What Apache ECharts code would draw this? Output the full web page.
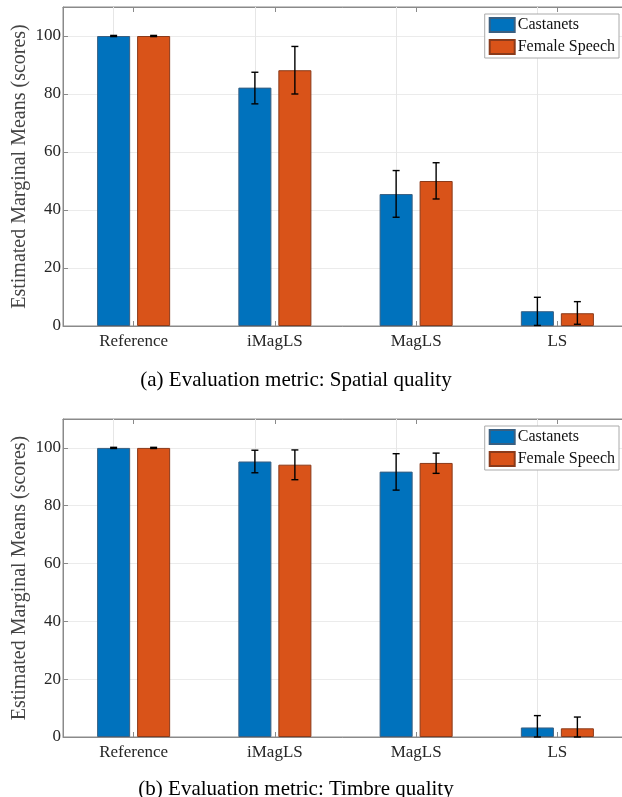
<!DOCTYPE html>
<html><head><meta charset="utf-8">
<script src="https://cdn.jsdelivr.net/npm/echarts@6/dist/echarts.min.js"></script>
<style>html,body{margin:0;padding:0;background:#fff}#c{width:622px;height:797px}</style>
</head><body><div id="c"></div>
<script>
const categories = ['Reference', 'iMagLS', 'MagLS', 'LS'];
const yTicks = [0, 20, 40, 60, 80, 100];
const seriesNames = ['Castanets', 'Female Speech'];
// (a) Spatial quality
const spatialCast = [100, 82.2, 45.5, 5.1];
const spatialCastLow = [99.8, 76.6, 37.5, 0.2];
const spatialCastHigh = [100.2, 87.5, 53.6, 9.9];
const spatialFem = [100, 88.2, 50.0, 4.4];
const spatialFemLow = [99.8, 80.0, 43.8, 0.6];
const spatialFemHigh = [100.2, 96.4, 56.3, 8.4];
// (b) Timbre quality
const timbreCast = [100, 95.3, 91.8, 3.3];
const timbreCastLow = [99.8, 91.4, 85.4, 0];
const timbreCastHigh = [100.2, 99.2, 98.0, 7.4];
const timbreFem = [100, 94.2, 94.8, 3.0];
const timbreFemLow = [99.8, 89.0, 91.2, 0];
const timbreFemHigh = [100.2, 99.3, 98.2, 6.9];

const FONT = 'Liberation Serif';
const TXT = '#262626';
const BLUE = '#0072BD', ORANGE = '#D95319';
const BAR_W = 0.234, BAR_GAP = 0.21;
const OFFSET = BAR_W * (1 + BAR_GAP) / 2;

const chart = echarts.init(document.getElementById('c'), null, {renderer: 'canvas'});

function errSeries(xi, yi, low, high, sign) {
  return {
    type: 'custom', xAxisIndex: xi, yAxisIndex: yi, z: 4, silent: true,
    data: low.map((l, i) => [i, l, high[i]]),
    encode: {x: 0, y: [1, 2]},
    renderItem: function (params, api) {
      const band = api.size([1, 0])[0];
      const p0 = api.coord([api.value(0), api.value(1)]);
      const p1 = api.coord([api.value(0), api.value(2)]);
      const x = p0[0] + sign * band * OFFSET;
      const cap = 3.5;
      const st = {stroke: '#000', lineWidth: 1.4};
      return {type: 'group', children: [
        {type: 'line', shape: {x1: x, y1: p0[1], x2: x, y2: p1[1]}, style: st},
        {type: 'line', shape: {x1: x - cap, y1: p0[1], x2: x + cap, y2: p0[1]}, style: st},
        {type: 'line', shape: {x1: x - cap, y1: p1[1], x2: x + cap, y2: p1[1]}, style: st}
      ]};
    }
  };
}
function barSeries(name, xi, yi, data, color, border, withLines) {
  const s = {
    name: name, type: 'bar', xAxisIndex: xi, yAxisIndex: yi, data: data, z: 2,
    barWidth: (BAR_W * 100) + '%', barGap: (BAR_GAP * 100) + '%',
    itemStyle: {color: color, borderColor: border, borderWidth: 1}
  };
  if (withLines) {
    s.markLine = {
      silent: true, symbol: 'none', z: 1, animation: false,
      label: {show: false},
      lineStyle: {color: '#e6e6e6', type: 'solid', width: 1},
      data: categories.map(c => ({xAxis: c}))
    };
  }
  return s;
}
function xAx(gi, pos) {
  const bottom = pos === 'bottom';
  return {
    type: 'category', gridIndex: gi, position: pos, data: categories,
    boundaryGap: true,
    axisLine: {show: true, lineStyle: {color: '#8a8a8a', width: 1}},
    axisTick: {show: true, inside: true, length: 5, alignWithLabel: true, lineStyle: {color: '#8a8a8a'}},
    axisLabel: {show: bottom, fontFamily: FONT, fontSize: 17, color: TXT, margin: 7},
    splitLine: {show: false}
  };
}
function yAx(gi) {
  return {
    type: 'value', gridIndex: gi, min: 0, max: 110, interval: 20,
    name: 'Estimated Marginal Means (scores)', nameLocation: 'middle', nameGap: 33,
    nameMoveOverlap: false,
    nameTextStyle: {fontFamily: FONT, fontSize: 20, color: '#444'},
    axisLine: {show: true, lineStyle: {color: '#8a8a8a', width: 1}},
    axisTick: {show: true, inside: true, length: 5, lineStyle: {color: '#8a8a8a'}},
    axisLabel: {fontFamily: FONT, fontSize: 17, color: TXT, margin: 2,
      formatter: v => (yTicks.indexOf(v) >= 0 ? String(v) : '')},
    splitLine: {show: true, lineStyle: {color: '#ebebeb', width: 1}}
  };
}
function leg(top) {
  return {
    top: top, right: 3, orient: 'vertical', icon: 'rect', itemWidth: 25, itemHeight: 14,
    itemGap: 6, padding: [3, 4, 3, 4], borderColor: '#aaa', borderWidth: 1,
    backgroundColor: '#fff', data: seriesNames,
    textStyle: {fontFamily: FONT, fontSize: 16, color: '#111', padding: [0, 0, 0, -2]},
    selectedMode: false
  };
}

chart.setOption({
  animation: false,
  backgroundColor: '#fff',
  grid: [
    {left: 63, top: 7, height: 319, width: 565, outerBoundsMode: 'none', containLabel: false,
      show: true, borderColor: '#8a8a8a', borderWidth: 1},
    {left: 63, top: 419, height: 318, width: 565, outerBoundsMode: 'none', containLabel: false,
      show: true, borderColor: '#8a8a8a', borderWidth: 1}
  ],
  legend: [leg(14), leg(426)],
  title: [
    {text: '(a) Evaluation metric: Spatial quality', left: 291, top: 365, textAlign: 'center',
      textStyle: {fontFamily: FONT, fontSize: 21, fontWeight: 'normal', color: '#000'}},
    {text: '(b) Evaluation metric: Timbre quality', left: 291, top: 774, textAlign: 'center',
      textStyle: {fontFamily: FONT, fontSize: 21, fontWeight: 'normal', color: '#000'}}
  ],
  xAxis: [xAx(0, 'bottom'), xAx(0, 'top'), xAx(1, 'bottom'), xAx(1, 'top')],
  yAxis: [yAx(0), yAx(1)],
  series: [
    barSeries('Castanets', 0, 0, spatialCast, BLUE, '#3a5f80', true),
    barSeries('Female Speech', 0, 0, spatialFem, ORANGE, '#8a3a1a', false),
    errSeries(0, 0, spatialCastLow, spatialCastHigh, -1),
    errSeries(0, 0, spatialFemLow, spatialFemHigh, 1),
    barSeries('Castanets', 2, 1, timbreCast, BLUE, '#3a5f80', true),
    barSeries('Female Speech', 2, 1, timbreFem, ORANGE, '#8a3a1a', false),
    errSeries(2, 1, timbreCastLow, timbreCastHigh, -1),
    errSeries(2, 1, timbreFemLow, timbreFemHigh, 1)
  ]
});
</script></body></html>
